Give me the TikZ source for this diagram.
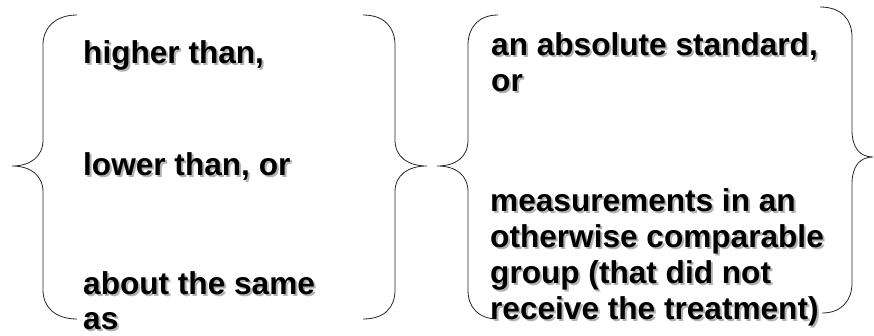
\documentclass[tikz,border=0pt]{standalone}
\usepackage{fontspec}
\setmainfont{Liberation Sans}
\newcommand{\shadowtext}[1]{\makebox[0pt][l]{\hspace{2bp}\raisebox{-2bp}{\textcolor{black!30}{#1}}}#1}
\begin{document}
\begin{tikzpicture}[x=1bp,y=-1bp,
  brace/.style={draw=black!85,line width=0.8bp},
  txt/.style={anchor=base west,inner sep=0pt,font=\fontsize{31.6bp}{37bp}\selectfont\bfseries,text=black}]
\useasboundingbox (0,0) rectangle (874,335);
% braces
\draw[brace] (77,15) .. controls (55,15) and (43,28) .. (43,45) -- (43,140)
  .. controls (43,157) and (30,166) .. (12,166)
  .. controls (30,166) and (43,175) .. (43,192) -- (43,290)
  .. controls (43,307) and (55,319) .. (77,319);
\draw[brace] (363,15) .. controls (385,15) and (395,28) .. (395,45) -- (395,140)
  .. controls (395,157) and (408,166) .. (427,166)
  .. controls (408,166) and (395,175) .. (395,192) -- (395,290)
  .. controls (395,307) and (385,319) .. (363,319);
\draw[brace] (498,15) .. controls (478,15) and (468,28) .. (468,45) -- (468,140)
  .. controls (468,157) and (456,166) .. (437,166)
  .. controls (456,166) and (468,175) .. (468,192) -- (468,290)
  .. controls (468,307) and (478,319) .. (498,319);
\draw[brace] (820,7) .. controls (842,7) and (852,20) .. (852,37) -- (852,130)
  .. controls (852,148) and (860,157) .. (873,157)
  .. controls (860,157) and (852,166) .. (852,184) -- (852,283)
  .. controls (852,300) and (842,313) .. (822,313);
% texts
\node[txt] (t1) at (83,63) {\shadowtext{higher than,}};
\node[txt] (t2) at (83,175) {\shadowtext{lower than, or}};
\node[txt] (t3) at (83,294) {\shadowtext{about the same}};
\node[txt] (t4) at (83,329) {\shadowtext{as}};
\node[txt] (t5) at (491,55) {\shadowtext{an absolute standard,}};
\node[txt] (t6) at (491,91) {\shadowtext{or}};
\node[txt] (t7) at (490,211) {\shadowtext{measurements in an}};
\node[txt] (t8) at (490,247) {\shadowtext{otherwise comparable}};
\node[txt] (t9) at (490,283) {\shadowtext{group (that did not}};
\node[txt] (t10) at (490,319) {\shadowtext{receive the treatment)}};
\end{tikzpicture}
\end{document}
